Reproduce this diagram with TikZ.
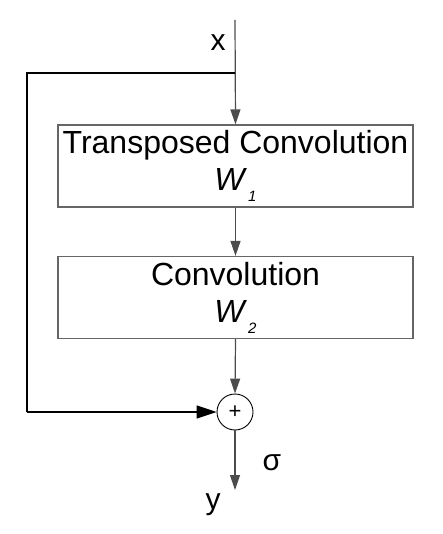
\documentclass[tikz,border=0pt]{standalone}
\usepackage{fontspec}
\setmainfont{Liberation Sans}
\usetikzlibrary{arrows.meta}
\newcommand{\Wsub}[1]{\textit{W}\kern1pt\raisebox{-11pt}{\fontsize{15}{15}\selectfont\itshape #1}}
\begin{document}
\begin{tikzpicture}[x=1pt,y=-1pt,
  line/.style={draw=black!70, line width=1.2pt},
  arr/.style={line, -{Triangle[length=15pt,width=10pt]}},
  blk/.style={draw=black!60, line width=1.2pt, minimum width=355pt, minimum height=82pt,
    align=center, inner sep=0pt, font=\fontsize{32}{37}\selectfont},
  sumnode/.style={circle, draw=black, line width=0.9pt, minimum size=36pt, inner sep=0pt,
    font=\fontsize{22}{22}\selectfont},
  lbl/.style={inner sep=0pt, font=\fontsize{30}{30}\selectfont}]
\useasboundingbox (0,0) rectangle (442,534);
\node[blk] (b1) at (235.5,166) {Transposed Convolution\\\Wsub{1}};
\node[blk] (b2) at (235.5,297.5) {Convolution\\\Wsub{2}};
\node[sumnode] (s) at (235,412) {+};
\coordinate (top) at (235,20);
\coordinate (j) at (235,73);
\coordinate (l1) at (27,73);
\coordinate (l2) at (27,412);
\coordinate (out) at (235,490);
\node[lbl] (xl) at (218,43) {x};
\node[lbl] (yl) at (213,505) {y};
\node[lbl] (sig) at (272,463) {σ};
\draw[arr] (top) -- (b1.north);
\draw[line,draw=black] (j) -- (l1) -- (l2);
\draw[line,draw=black,-{Triangle[length=20pt,width=13pt]}] (l2) -- (s.west);
\draw[arr] (b1.south) -- (b2.north);
\draw[arr] (b2.south) -- (s.north);
\draw[arr] (s.south) -- (out);
\end{tikzpicture}
\end{document}
